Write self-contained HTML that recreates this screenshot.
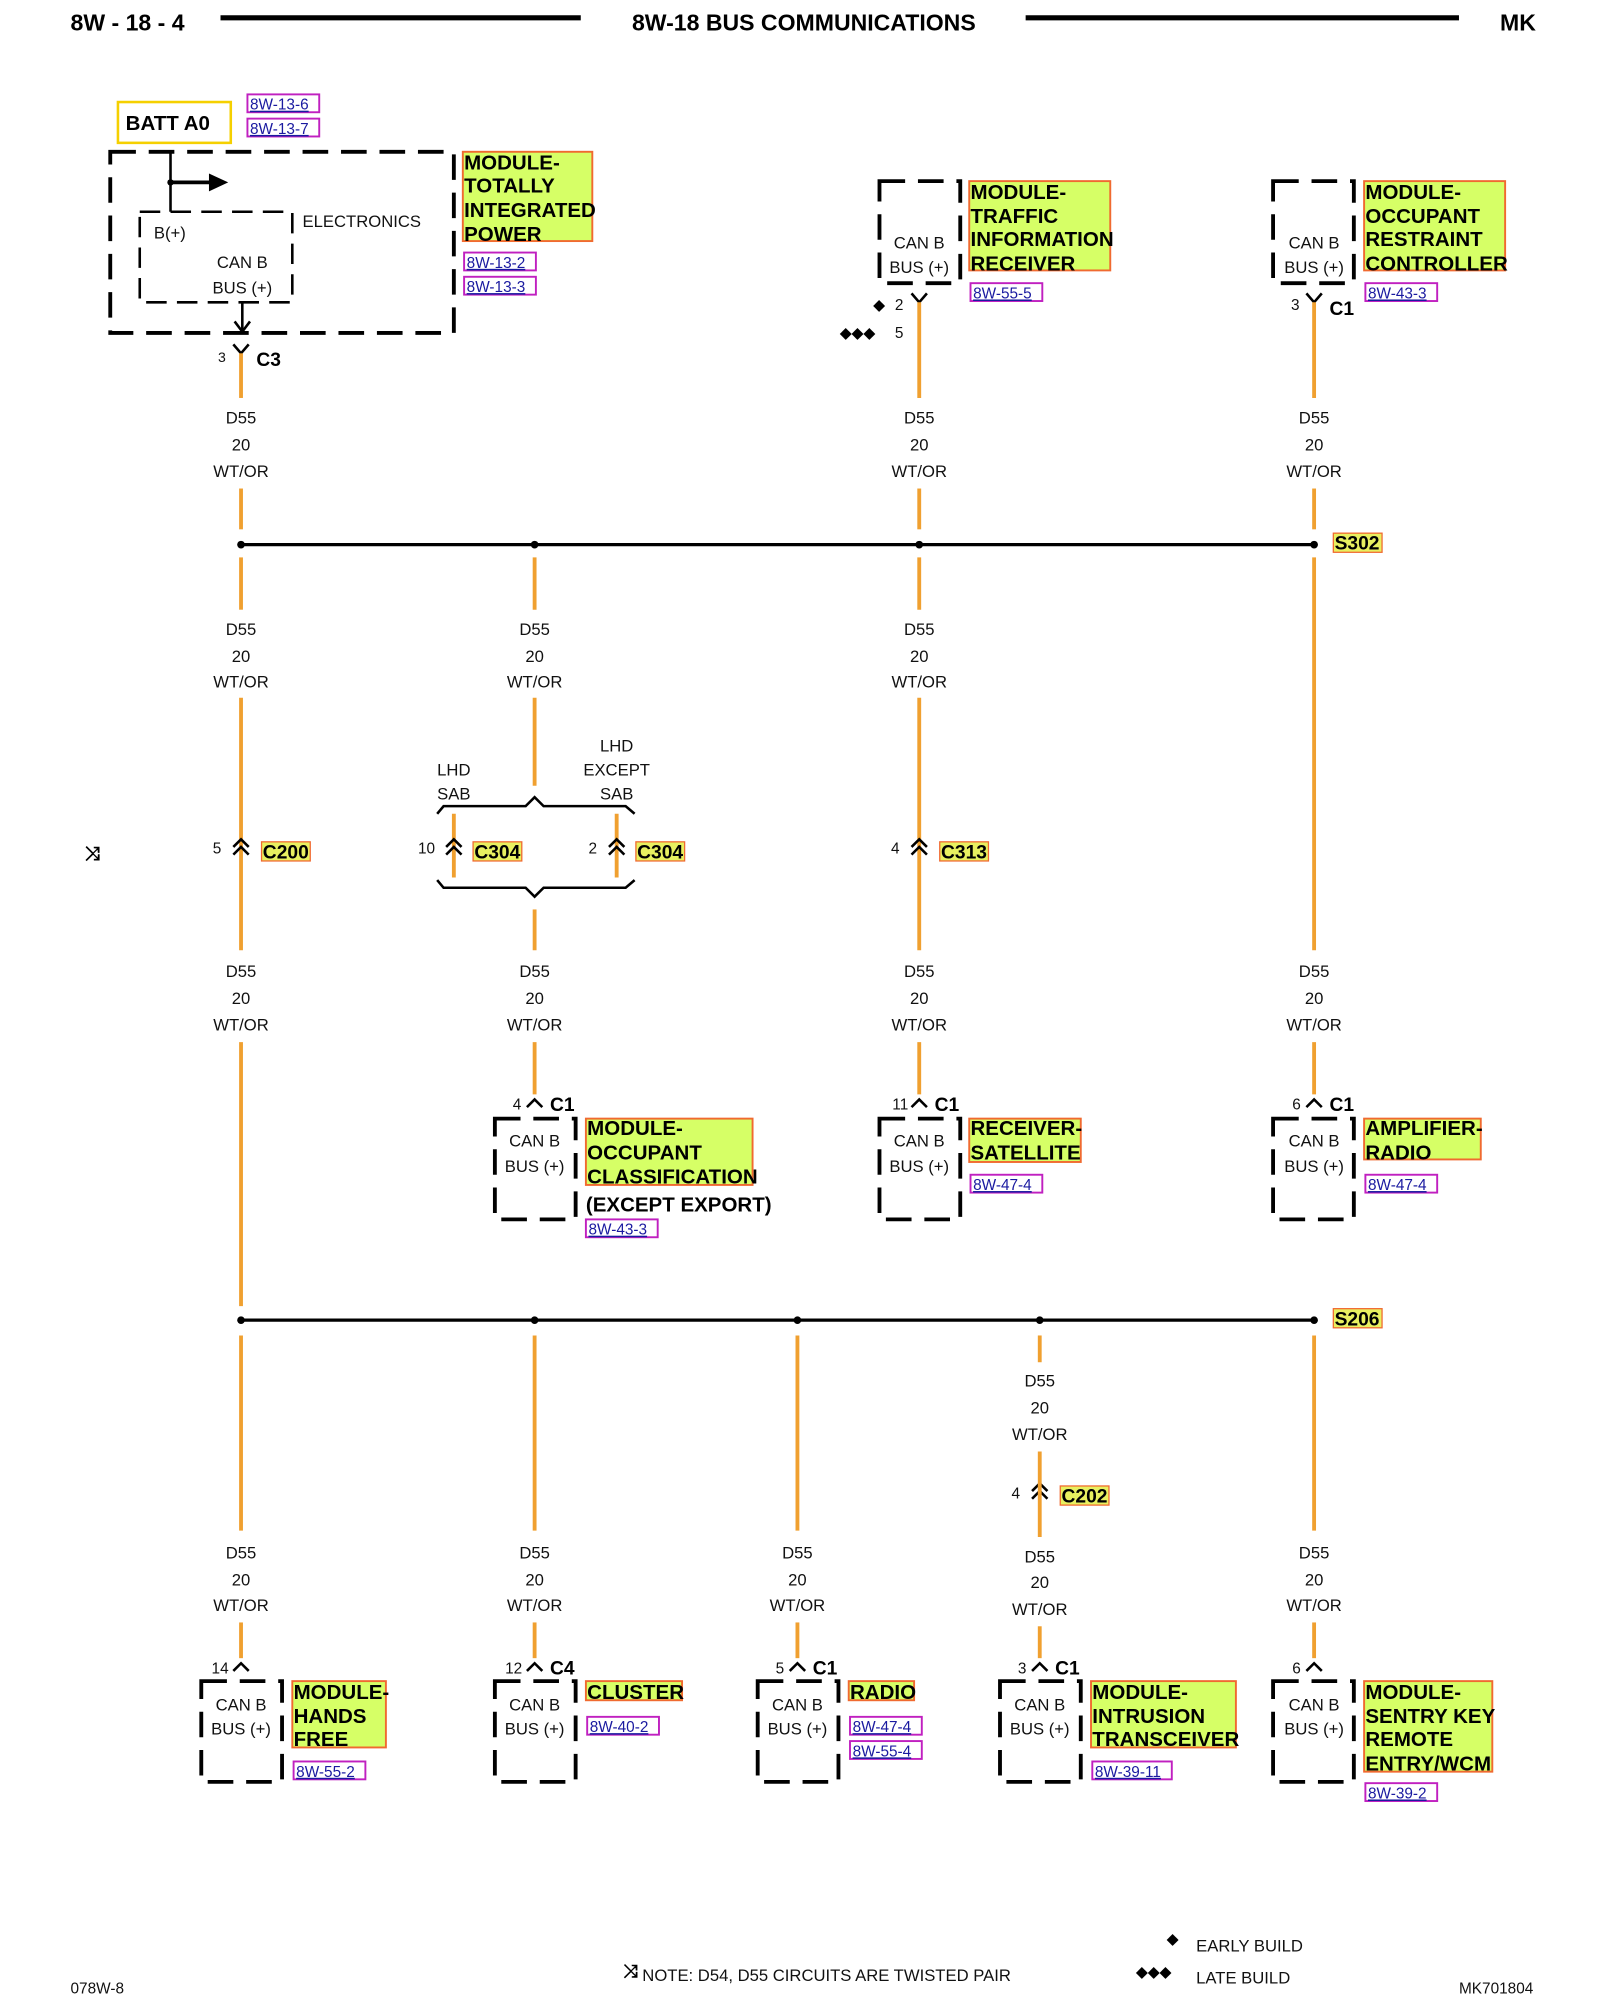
<!DOCTYPE html>
<html><head><meta charset="utf-8"><style>
html,body{margin:0;padding:0;background:#fff;width:1600px;height:2000px;overflow:hidden}
svg{display:block}
text{font-family:"Liberation Sans",sans-serif}
.t{font-size:13px;fill:#111;text-anchor:middle}
.s{font-size:13px;fill:#111}
.b{font-size:16px;font-weight:bold;fill:#000}
.c{font-size:15px;font-weight:bold;fill:#000}
.r{font-size:12px;fill:#1a1aa0;text-decoration:underline}
.w{stroke:#f0a030;stroke-width:3;fill:none}
.k{stroke:#000;stroke-width:3;fill:none}
.d{stroke:#000;stroke-width:3;fill:none;stroke-dasharray:20,10}
.lb{fill:#d6ff66;stroke:#f06a30;stroke-width:1.5}
.rb{fill:none;stroke:#c020c0;stroke-width:1.5}
.hl{fill:#e8f060;stroke:#f06a30;stroke-width:1}
</style></head><body>
<svg width="1600" height="2000" viewBox="0 0 1248 1568" preserveAspectRatio="none" xmlns="http://www.w3.org/2000/svg">
<!-- header -->
<text x="55" y="24" style="font-size:18px;font-weight:bold">8W - 18 - 4</text>
<line x1="172" y1="14" x2="453" y2="14" stroke="#000" stroke-width="4"/>
<text x="627" y="24" style="font-size:18px;font-weight:bold" text-anchor="middle">8W-18 BUS COMMUNICATIONS</text>
<line x1="800" y1="14" x2="1138" y2="14" stroke="#000" stroke-width="4"/>
<text x="1170" y="24" style="font-size:18px;font-weight:bold">MK</text>

<!-- BATT A0 -->
<rect x="92" y="80" width="88" height="32" fill="none" stroke="#f5d000" stroke-width="2"/>
<text x="98" y="102" style="font-size:16px;font-weight:bold">BATT A0</text>
<rect class="rb" x="193" y="74" width="56" height="14"/><text class="r" x="195" y="86">8W-13-6</text>
<rect class="rb" x="193" y="93" width="56" height="14"/><text class="r" x="195" y="105">8W-13-7</text>

<!-- TIPM -->
<rect class="d" x="86" y="119" width="268" height="142"/>
<rect class="d" x="109" y="166" width="119" height="71" style="stroke-width:2;stroke-dasharray:16,8"/>
<line class="k" x1="133" y1="119" x2="133" y2="166" style="stroke-width:2"/>
<line class="k" x1="133" y1="143" x2="165" y2="143"/>
<polygon points="163,136 178,143 163,150"/>
<circle cx="133" cy="143" r="2.5"/>
<text class="s" x="236" y="178">ELECTRONICS</text>
<text class="s" x="120" y="187">B(+)</text>
<text class="t" x="189" y="210">CAN B</text>
<text class="t" x="189" y="230">BUS (+)</text>
<line class="k" x1="189" y1="237" x2="189" y2="260" style="stroke-width:2"/>
<polyline class="k" points="183,252 189,260 195,252" style="stroke-width:2"/>
<rect class="lb" x="361" y="119" width="101" height="70"/>
<text class="b" x="362" y="133">MODULE-</text><text class="b" x="362" y="151">TOTALLY</text><text class="b" x="362" y="170">INTEGRATED</text><text class="b" x="362" y="189">POWER</text>
<rect class="rb" x="362" y="198" width="56" height="14"/><text class="r" x="364" y="210">8W-13-2</text>
<rect class="rb" x="362" y="217" width="56" height="14"/><text class="r" x="364" y="229">8W-13-3</text>
<polyline class="k" points="182,270 188,277 194,270" style="stroke-width:2"/>
<text class="s" x="170" y="284" style="font-size:11px">3</text>
<text class="c" x="200" y="287">C3</text>

<!-- top devices -->
<rect class="d" x="686" y="142" width="63" height="80"/>
<text class="t" x="717" y="195">CAN B</text><text class="t" x="717" y="214">BUS (+)</text>
<rect class="lb" x="756" y="142" width="110" height="70"/>
<text class="b" x="757" y="156">MODULE-</text><text class="b" x="757" y="175">TRAFFIC</text><text class="b" x="757" y="193">INFORMATION</text><text class="b" x="757" y="212">RECEIVER</text>
<rect class="rb" x="757" y="222" width="56" height="14"/><text class="r" x="759" y="234">8W-55-5</text>
<polyline class="k" points="711,230 717,237 723,230" style="stroke-width:2"/>
<text x="681" y="243" style="font-size:12px">◆</text><text class="s" x="698" y="243" style="font-size:12px">2</text>
<text x="655" y="265" style="font-size:12px">◆◆◆</text><text class="s" x="698" y="265" style="font-size:12px">5</text>

<rect class="d" x="993" y="142" width="63" height="80"/>
<text class="t" x="1025" y="195">CAN B</text><text class="t" x="1025" y="214">BUS (+)</text>
<rect class="lb" x="1064" y="142" width="110" height="70"/>
<text class="b" x="1065" y="156">MODULE-</text><text class="b" x="1065" y="175">OCCUPANT</text><text class="b" x="1065" y="193">RESTRAINT</text><text class="b" x="1065" y="212">CONTROLLER</text>
<rect class="rb" x="1065" y="222" width="56" height="14"/><text class="r" x="1067" y="234">8W-43-3</text>
<polyline class="k" points="1019,230 1025,237 1031,230" style="stroke-width:2"/>
<text class="s" x="1007" y="243" style="font-size:12px">3</text>
<text class="c" x="1037" y="247">C1</text>

<!-- wires top -->
<g class="w">
<line x1="188" y1="277" x2="188" y2="312"/><line x1="188" y1="383" x2="188" y2="415"/>
<line x1="717" y1="237" x2="717" y2="312"/><line x1="717" y1="383" x2="717" y2="415"/>
<line x1="1025" y1="237" x2="1025" y2="312"/><line x1="1025" y1="383" x2="1025" y2="415"/>
<line x1="188" y1="437" x2="188" y2="478"/><line x1="417" y1="437" x2="417" y2="478"/><line x1="717" y1="437" x2="717" y2="478"/>
<line x1="1025" y1="437" x2="1025" y2="745"/>
<line x1="188" y1="547" x2="188" y2="745"/><line x1="717" y1="547" x2="717" y2="745"/>
<line x1="417" y1="547" x2="417" y2="616"/>
<line x1="354" y1="638" x2="354" y2="688"/><line x1="481" y1="638" x2="481" y2="688"/>
<line x1="417" y1="713" x2="417" y2="745"/>
<line x1="188" y1="817" x2="188" y2="1024"/>
<line x1="417" y1="817" x2="417" y2="858"/><line x1="717" y1="817" x2="717" y2="858"/><line x1="1025" y1="817" x2="1025" y2="858"/>
</g>
<g class="t">
<text x="188" y="332">D55</text><text x="188" y="353">20</text><text x="188" y="374">WT/OR</text>
<text x="717" y="332">D55</text><text x="717" y="353">20</text><text x="717" y="374">WT/OR</text>
<text x="1025" y="332">D55</text><text x="1025" y="353">20</text><text x="1025" y="374">WT/OR</text>
<text x="188" y="498">D55</text><text x="188" y="519">20</text><text x="188" y="539">WT/OR</text>
<text x="417" y="498">D55</text><text x="417" y="519">20</text><text x="417" y="539">WT/OR</text>
<text x="717" y="498">D55</text><text x="717" y="519">20</text><text x="717" y="539">WT/OR</text>
<text x="188" y="766">D55</text><text x="188" y="787">20</text><text x="188" y="808">WT/OR</text>
<text x="417" y="766">D55</text><text x="417" y="787">20</text><text x="417" y="808">WT/OR</text>
<text x="717" y="766">D55</text><text x="717" y="787">20</text><text x="717" y="808">WT/OR</text>
<text x="1025" y="766">D55</text><text x="1025" y="787">20</text><text x="1025" y="808">WT/OR</text>
</g>

<!-- S302 bus -->
<line x1="188" y1="427" x2="1025" y2="427" stroke="#000" stroke-width="2.5"/>
<circle cx="188" cy="427" r="3"/><circle cx="417" cy="427" r="3"/><circle cx="717" cy="427" r="3"/><circle cx="1025" cy="427" r="3"/>
<rect class="hl" x="1040" y="418" width="38" height="15"/><text class="c" x="1041" y="431">S302</text>

<!-- inline connectors -->
<g class="k" style="stroke-width:2">
<polyline points="182,664 188,658 194,664"/><polyline points="182,670 188,664 194,670"/>
<polyline points="348,664 354,658 360,664"/><polyline points="348,670 354,664 360,670"/>
<polyline points="475,664 481,658 487,664"/><polyline points="475,670 481,664 487,670"/>
<polyline points="711,664 717,658 723,664"/><polyline points="711,670 717,664 723,670"/>
<polyline points="805,1169 811,1163 817,1169"/><polyline points="805,1175 811,1169 817,1175"/>
<path d="M341,638 L346,632 L410,632 L417,625 L424,632 L488,632 L495,638"/>
<path d="M341,690 L346,696 L410,696 L417,703 L424,696 L488,696 L495,690"/>
</g>
<text class="s" x="166" y="669" style="font-size:12px">5</text>
<rect class="hl" x="204" y="660" width="38" height="15"/><text class="c" x="205" y="673">C200</text>
<text class="s" x="326" y="669" style="font-size:12px">10</text>
<rect class="hl" x="369" y="660" width="38" height="15"/><text class="c" x="370" y="673">C304</text>
<text class="s" x="459" y="669" style="font-size:12px">2</text>
<rect class="hl" x="496" y="660" width="38" height="15"/><text class="c" x="497" y="673">C304</text>
<text class="s" x="695" y="669" style="font-size:12px">4</text>
<rect class="hl" x="733" y="660" width="38" height="15"/><text class="c" x="734" y="673">C313</text>
<text class="t" x="354" y="608">LHD</text><text class="t" x="354" y="627">SAB</text>
<text class="t" x="481" y="589">LHD</text><text class="t" x="481" y="608">EXCEPT</text><text class="t" x="481" y="627">SAB</text>
<text x="66" y="674" style="font-size:15px;font-weight:bold">⤨</text>

<!-- middle devices -->
<g class="k" style="stroke-width:2">
<polyline points="411,868 417,862 423,868"/><polyline points="711,868 717,862 723,868"/><polyline points="1019,868 1025,862 1031,868"/>
</g>
<text class="s" x="400" y="870" style="font-size:12px">4</text><text class="c" x="429" y="871">C1</text>
<text class="s" x="696" y="870" style="font-size:12px">11</text><text class="c" x="729" y="871">C1</text>
<text class="s" x="1008" y="870" style="font-size:12px">6</text><text class="c" x="1037" y="871">C1</text>
<rect class="d" x="386" y="877" width="63" height="79"/><text class="t" x="417" y="899">CAN B</text><text class="t" x="417" y="919">BUS (+)</text>
<rect class="d" x="686" y="877" width="63" height="79"/><text class="t" x="717" y="899">CAN B</text><text class="t" x="717" y="919">BUS (+)</text>
<rect class="d" x="993" y="877" width="63" height="79"/><text class="t" x="1025" y="899">CAN B</text><text class="t" x="1025" y="919">BUS (+)</text>
<rect class="lb" x="457" y="877" width="130" height="52"/>
<text class="b" x="458" y="890">MODULE-</text><text class="b" x="458" y="909">OCCUPANT</text><text class="b" x="458" y="928">CLASSIFICATION</text>
<text class="b" x="457" y="950">(EXCEPT EXPORT)</text>
<rect class="rb" x="457" y="956" width="56" height="14"/><text class="r" x="459" y="968">8W-43-3</text>
<rect class="lb" x="756" y="877" width="87" height="34"/>
<text class="b" x="757" y="890">RECEIVER-</text><text class="b" x="757" y="909">SATELLITE</text>
<rect class="rb" x="757" y="921" width="56" height="14"/><text class="r" x="759" y="933">8W-47-4</text>
<rect class="lb" x="1064" y="877" width="91" height="32"/>
<text class="b" x="1065" y="890">AMPLIFIER-</text><text class="b" x="1065" y="909">RADIO</text>
<rect class="rb" x="1065" y="921" width="56" height="14"/><text class="r" x="1067" y="933">8W-47-4</text>

<!-- S206 bus -->
<line x1="188" y1="1035" x2="1025" y2="1035" stroke="#000" stroke-width="2.5"/>
<circle cx="188" cy="1035" r="3"/><circle cx="417" cy="1035" r="3"/><circle cx="622" cy="1035" r="3"/><circle cx="811" cy="1035" r="3"/><circle cx="1025" cy="1035" r="3"/>
<rect class="hl" x="1040" y="1026" width="38" height="15"/><text class="c" x="1041" y="1039">S206</text>

<g class="w">
<line x1="188" y1="1047" x2="188" y2="1200"/><line x1="417" y1="1047" x2="417" y2="1200"/><line x1="622" y1="1047" x2="622" y2="1200"/><line x1="1025" y1="1047" x2="1025" y2="1200"/>
<line x1="811" y1="1047" x2="811" y2="1068"/><line x1="811" y1="1138" x2="811" y2="1205"/>
<line x1="188" y1="1272" x2="188" y2="1300"/><line x1="417" y1="1272" x2="417" y2="1300"/><line x1="622" y1="1272" x2="622" y2="1300"/><line x1="1025" y1="1272" x2="1025" y2="1300"/><line x1="811" y1="1275" x2="811" y2="1300"/>
</g>
<g class="t">
<text x="188" y="1222">D55</text><text x="188" y="1243">20</text><text x="188" y="1263">WT/OR</text>
<text x="417" y="1222">D55</text><text x="417" y="1243">20</text><text x="417" y="1263">WT/OR</text>
<text x="622" y="1222">D55</text><text x="622" y="1243">20</text><text x="622" y="1263">WT/OR</text>
<text x="1025" y="1222">D55</text><text x="1025" y="1243">20</text><text x="1025" y="1263">WT/OR</text>
<text x="811" y="1087">D55</text><text x="811" y="1108">20</text><text x="811" y="1129">WT/OR</text>
<text x="811" y="1225">D55</text><text x="811" y="1245">20</text><text x="811" y="1266">WT/OR</text>
</g>
<text class="s" x="789" y="1175" style="font-size:12px">4</text>
<rect class="hl" x="827" y="1165" width="38" height="15"/><text class="c" x="828" y="1178">C202</text>

<!-- bottom devices -->
<g class="k" style="stroke-width:2">
<polyline points="182,1310 188,1304 194,1310"/><polyline points="411,1310 417,1304 423,1310"/><polyline points="616,1310 622,1304 628,1310"/><polyline points="805,1310 811,1304 817,1310"/><polyline points="1019,1310 1025,1304 1031,1310"/>
</g>
<text class="s" x="165" y="1312" style="font-size:12px">14</text>
<text class="s" x="394" y="1312" style="font-size:12px">12</text><text class="c" x="429" y="1313">C4</text>
<text class="s" x="605" y="1312" style="font-size:12px">5</text><text class="c" x="634" y="1313">C1</text>
<text class="s" x="794" y="1312" style="font-size:12px">3</text><text class="c" x="823" y="1313">C1</text>
<text class="s" x="1008" y="1312" style="font-size:12px">6</text>
<rect class="d" x="157" y="1318" width="63" height="79"/><text class="t" x="188" y="1341">CAN B</text><text class="t" x="188" y="1360">BUS (+)</text>
<rect class="d" x="386" y="1318" width="63" height="79"/><text class="t" x="417" y="1341">CAN B</text><text class="t" x="417" y="1360">BUS (+)</text>
<rect class="d" x="591" y="1318" width="63" height="79"/><text class="t" x="622" y="1341">CAN B</text><text class="t" x="622" y="1360">BUS (+)</text>
<rect class="d" x="780" y="1318" width="63" height="79"/><text class="t" x="811" y="1341">CAN B</text><text class="t" x="811" y="1360">BUS (+)</text>
<rect class="d" x="993" y="1318" width="63" height="79"/><text class="t" x="1025" y="1341">CAN B</text><text class="t" x="1025" y="1360">BUS (+)</text>

<rect class="lb" x="228" y="1318" width="73" height="52"/>
<text class="b" x="229" y="1332">MODULE-</text><text class="b" x="229" y="1351">HANDS</text><text class="b" x="229" y="1369">FREE</text>
<rect class="rb" x="229" y="1381" width="56" height="14"/><text class="r" x="231" y="1393">8W-55-2</text>
<rect class="lb" x="457" y="1318" width="75" height="15"/><text class="b" x="458" y="1332">CLUSTER</text>
<rect class="rb" x="458" y="1346" width="56" height="14"/><text class="r" x="460" y="1358">8W-40-2</text>
<rect class="lb" x="662" y="1318" width="51" height="15"/><text class="b" x="663" y="1332">RADIO</text>
<rect class="rb" x="663" y="1346" width="56" height="14"/><text class="r" x="665" y="1358">8W-47-4</text>
<rect class="rb" x="663" y="1365" width="56" height="14"/><text class="r" x="665" y="1377">8W-55-4</text>
<rect class="lb" x="851" y="1318" width="113" height="52"/>
<text class="b" x="852" y="1332">MODULE-</text><text class="b" x="852" y="1351">INTRUSION</text><text class="b" x="852" y="1369">TRANSCEIVER</text>
<rect class="rb" x="852" y="1381" width="62" height="14"/><text class="r" x="854" y="1393">8W-39-11</text>
<rect class="lb" x="1064" y="1318" width="100" height="71"/>
<text class="b" x="1065" y="1332">MODULE-</text><text class="b" x="1065" y="1351">SENTRY KEY</text><text class="b" x="1065" y="1369">REMOTE</text><text class="b" x="1065" y="1388">ENTRY/WCM</text>
<rect class="rb" x="1065" y="1398" width="56" height="14"/><text class="r" x="1067" y="1410">8W-39-2</text>

<!-- footer -->
<text class="s" x="55" y="1563" style="font-size:12px">078W-8</text>
<text x="486" y="1550" style="font-size:14px;font-weight:bold">⤨</text>
<text class="s" x="501" y="1553">NOTE:  D54, D55   CIRCUITS ARE TWISTED PAIR</text>
<text x="910" y="1524" style="font-size:12px">◆</text><text class="s" x="933" y="1530">EARLY BUILD</text>
<text x="886" y="1550" style="font-size:12px">◆◆◆</text><text class="s" x="933" y="1555">LATE BUILD</text>
<text class="s" x="1138" y="1563" style="font-size:12px">MK701804</text>
</svg>
</body></html>
